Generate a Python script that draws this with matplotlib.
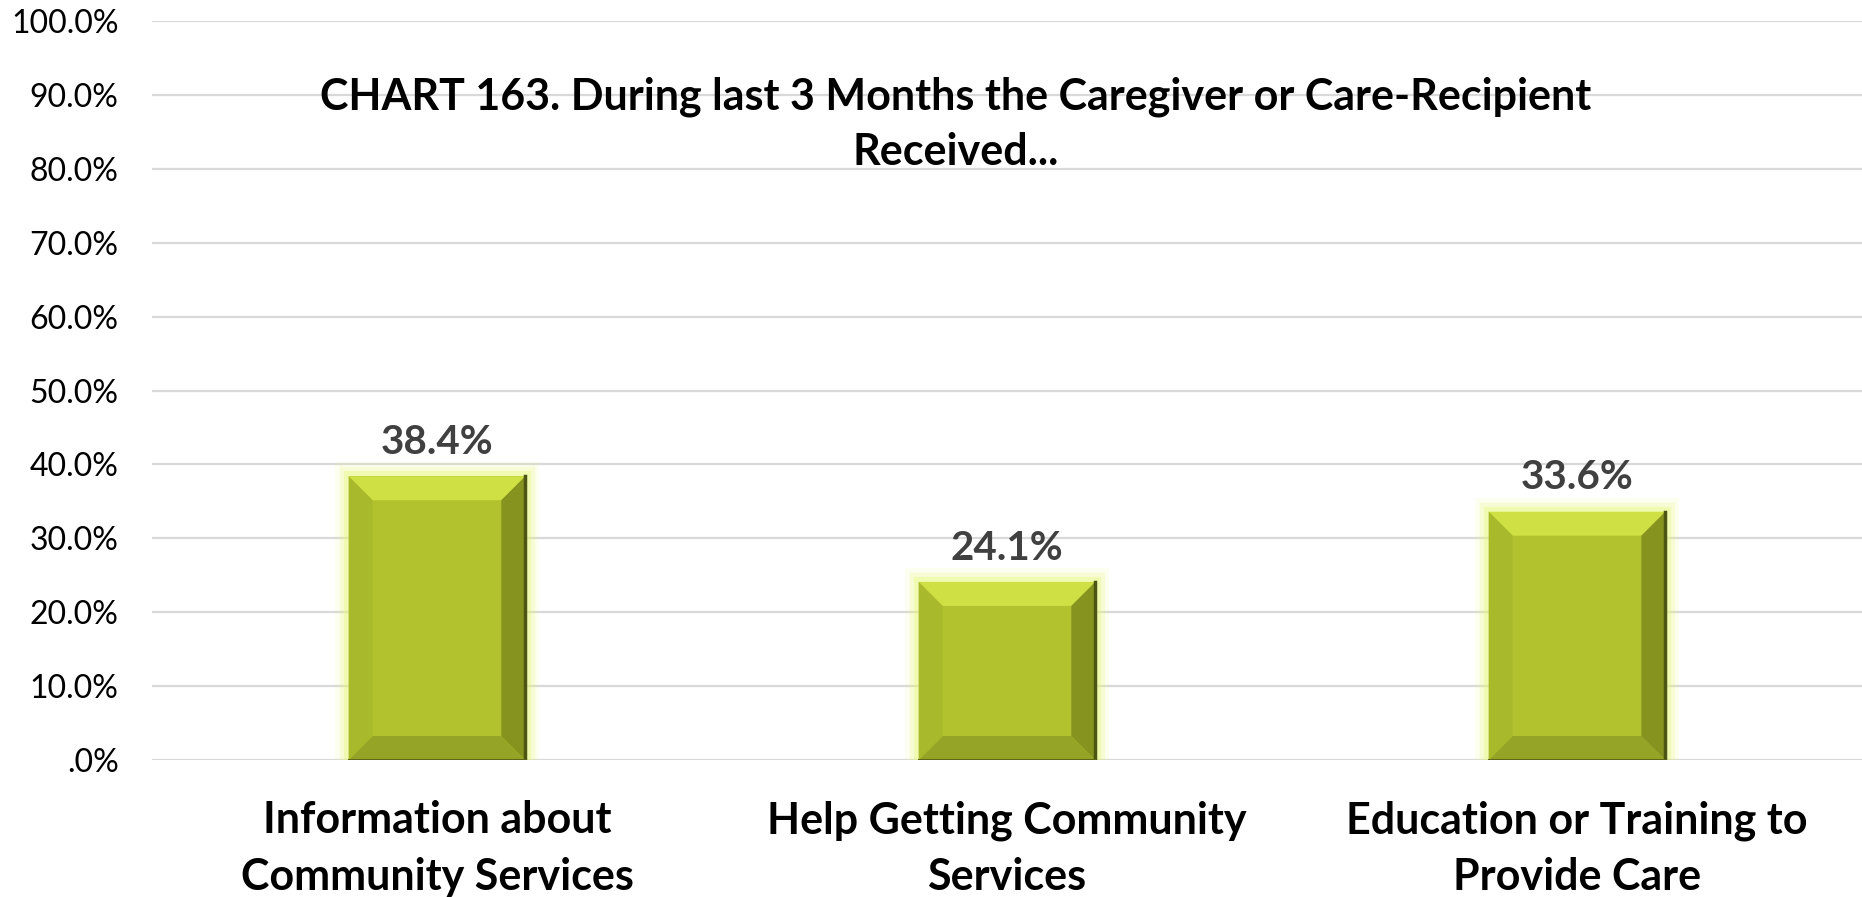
import matplotlib.pyplot as plt
from matplotlib.patches import Polygon

# Données du graphique
categories = ["Information about\nCommunity Services",
              "Help Getting Community\nServices",
              "Education or Training to\nProvide Care"]
values = [38.4, 24.1, 33.6]
yticks = [0, 10, 20, 30, 40, 50, 60, 70, 80, 90, 100]
title = "CHART 163. During last 3 Months the Caregiver or Care-Recipient\nReceived..."

plt.rcParams['font.family'] = ['Lato', 'DejaVu Sans']

fig = plt.figure(figsize=(18.62, 8.97), dpi=100)
ax = fig.add_axes([0.0816, 0.1527, 0.9184, 0.8239])

x = list(range(len(categories)))
ax.set_xlim(-0.5, len(categories) - 0.5)
ax.set_ylim(0, 100)

# grille
ax.set_yticks(yticks)
ax.set_yticklabels([f"{v:.1f}%" if v else ".0%" for v in yticks])
ax.grid(axis="y", color="#d9d9d9", linewidth=1.6)
ax.set_axisbelow(True)
for s in ax.spines.values():
    s.set_visible(False)
ax.tick_params(axis="y", length=0, pad=24, labelsize=23, labelcolor="black")
ax.tick_params(axis="x", length=0, pad=29)
ax.set_xticks(x)
ax.set_xticklabels(categories, fontsize=31, fontweight="bold", linespacing=1.5)

width = 0.31
# halo lumineux autour des barres
for lw, a in [(20, 0.12), (14, 0.22), (8, 0.4)]:
    ax.bar(x, values, width=width, color="none", edgecolor="#e9f77c",
           linewidth=lw, alpha=a, zorder=2)
bars = ax.bar(x, values, width=width, color="#b1c22e", zorder=3)

# effet biseau
bw_px = 24
ax_w = fig.get_figwidth() * fig.dpi * 0.9184
ax_h = fig.get_figheight() * fig.dpi * 0.8239
dx = bw_px / ax_w * len(categories)
dy = bw_px / ax_h * 100
for b in bars:
    x0, y0 = b.get_x(), b.get_y()
    x1, y1 = x0 + b.get_width(), y0 + b.get_height()
    faces = [
        ([(x0, y1), (x1, y1), (x1 - dx, y1 - dy), (x0 + dx, y1 - dy)], "#cfe045"),
        ([(x1, y1), (x1, y0), (x1 - dx, y0 + dy), (x1 - dx, y1 - dy)], "#86941f"),
        ([(x0, y0), (x1, y0), (x1 - dx, y0 + dy), (x0 + dx, y0 + dy)], "#95a426"),
        ([(x0, y0), (x0, y1), (x0 + dx, y1 - dy), (x0 + dx, y0 + dy)], "#a8b92b"),
    ]
    for pts, c in faces:
        ax.add_patch(Polygon(pts, closed=True, facecolor=c, edgecolor="none", zorder=4))
    ax.plot([x1, x1], [y0, y1], color="#4d5512", linewidth=2.5, zorder=5)
    ax.plot([x0, x1], [y0, y0], color="#5e6816", linewidth=1.5, zorder=5)

# étiquettes de valeur
for xi, v in zip(x, values):
    ax.annotate(f"{v:.1f}%", (xi, v), xytext=(0, 11), textcoords="offset points",
                ha="center", va="bottom", fontsize=29, fontweight="bold", color="#404040")

ax.text(0.47, 0.86, title, transform=ax.transAxes, ha="center", va="center",
        fontsize=31, fontweight="bold", linespacing=1.45)

fig.savefig("out.png", dpi=100)
